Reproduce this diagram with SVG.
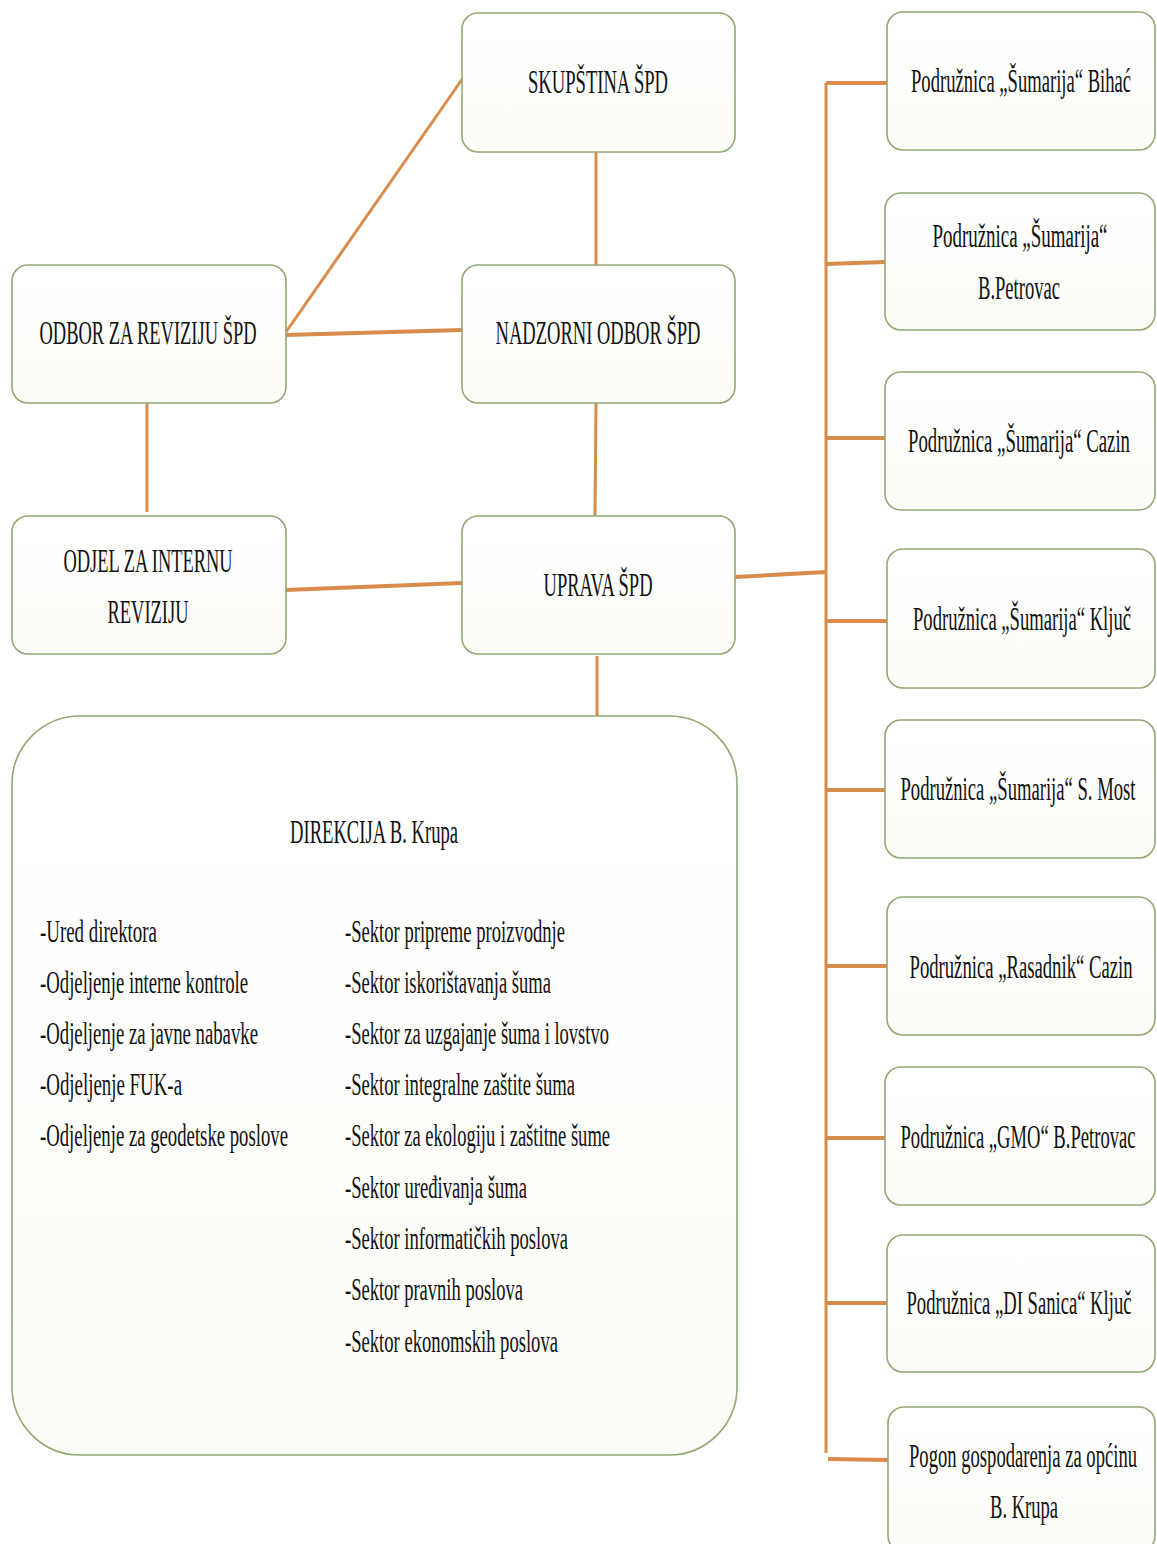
<svg xmlns="http://www.w3.org/2000/svg" width="1157" height="1544" viewBox="0 0 1157 1544">
<defs>
<linearGradient id="bg" x1="0" y1="0" x2="0" y2="1">
<stop offset="0" stop-color="#ffffff"/>
<stop offset="1" stop-color="#fbfcf7"/>
</linearGradient>
<style>
.box{fill:url(#bg);stroke:#93a874;stroke-width:1.6}
.t{font-family:"Liberation Serif","Times New Roman",serif;font-size:34px;fill:#111;text-anchor:middle}
.l{font-family:"Liberation Serif","Times New Roman",serif;font-size:31px;fill:#111}
.c{stroke:#d98c4c;stroke-width:3;fill:none}
.c2{stroke:#d98c4c;stroke-width:4;fill:none}
</style>
</defs>
<rect width="1157" height="1544" fill="#ffffff"/>
<g id="connectors">
<line class="c" x1="596" y1="152" x2="596" y2="266"/>
<line class="c" x1="286" y1="332" x2="463" y2="78"/>
<line class="c2" x1="286" y1="335" x2="462" y2="330"/>
<line class="c" x1="596" y1="403" x2="595" y2="517"/>
<line class="c" x1="147" y1="403" x2="147" y2="512"/>
<line class="c2" x1="286" y1="590" x2="462" y2="583"/>
<line class="c" x1="597" y1="656" x2="597" y2="717"/>
<line class="c2" x1="735" y1="577" x2="826" y2="572"/>
<line class="c" x1="826" y1="83" x2="826" y2="1453"/>
<line class="c2" x1="826" y1="83" x2="887" y2="83"/>
<line class="c2" x1="826" y1="264" x2="885" y2="262"/>
<line class="c2" x1="826" y1="438" x2="885" y2="438"/>
<line class="c2" x1="826" y1="621" x2="887" y2="621"/>
<line class="c2" x1="826" y1="790" x2="885" y2="790"/>
<line class="c2" x1="826" y1="966" x2="887" y2="966"/>
<line class="c2" x1="826" y1="1138" x2="885" y2="1138"/>
<line class="c2" x1="826" y1="1303" x2="887" y2="1303"/>
<line class="c2" x1="828" y1="1459" x2="888" y2="1460"/>
</g>
<g id="skupstina">
<rect class="box" x="462" y="13" width="273" height="139" rx="16"/>
<text class="t" transform="translate(598,93) scale(0.6,1)" textLength="233.3" lengthAdjust="spacingAndGlyphs">SKUPŠTINA ŠPD</text>
</g>
<g id="odbor-revizija">
<rect class="box" x="12" y="265" width="274" height="138" rx="16"/>
<text class="t" transform="translate(148,344) scale(0.6,1)" textLength="361.7" lengthAdjust="spacingAndGlyphs">ODBOR ZA REVIZIJU ŠPD</text>
</g>
<g id="nadzorni">
<rect class="box" x="462" y="265" width="273" height="138" rx="16"/>
<text class="t" transform="translate(598,344) scale(0.6,1)" textLength="341.7" lengthAdjust="spacingAndGlyphs">NADZORNI ODBOR ŠPD</text>
</g>
<g id="odjel">
<rect class="box" x="12" y="516" width="274" height="138" rx="16"/>
<text class="t" transform="translate(148,572) scale(0.6,1)" textLength="281.7" lengthAdjust="spacingAndGlyphs">ODJEL ZA INTERNU</text>
<text class="t" transform="translate(148,623) scale(0.6,1)" textLength="135" lengthAdjust="spacingAndGlyphs">REVIZIJU</text>
</g>
<g id="uprava">
<rect class="box" x="462" y="516" width="273" height="138" rx="16"/>
<text class="t" transform="translate(598,596) scale(0.6,1)" textLength="181.7" lengthAdjust="spacingAndGlyphs">UPRAVA ŠPD</text>
</g>
<g id="direkcija">
<rect class="box" x="12" y="716" width="725" height="739" rx="68"/>
<text class="t" transform="translate(374,843) scale(0.6,1)" textLength="280" lengthAdjust="spacingAndGlyphs">DIREKCIJA B. Krupa</text>
<text class="l" transform="translate(40,942) scale(0.6,1)" textLength="195" lengthAdjust="spacingAndGlyphs">-Ured direktora</text>
<text class="l" transform="translate(40,993) scale(0.6,1)" textLength="346.7" lengthAdjust="spacingAndGlyphs">-Odjeljenje interne kontrole</text>
<text class="l" transform="translate(40,1044) scale(0.6,1)" textLength="363.3" lengthAdjust="spacingAndGlyphs">-Odjeljenje za javne nabavke</text>
<text class="l" transform="translate(40,1095) scale(0.6,1)" textLength="236.7" lengthAdjust="spacingAndGlyphs">-Odjeljenje FUK-a</text>
<text class="l" transform="translate(40,1146) scale(0.6,1)" textLength="413.3" lengthAdjust="spacingAndGlyphs">-Odjeljenje za geodetske poslove</text>
<text class="l" transform="translate(345,942) scale(0.6,1)" textLength="366.7" lengthAdjust="spacingAndGlyphs">-Sektor pripreme proizvodnje</text>
<text class="l" transform="translate(345,993) scale(0.6,1)" textLength="343.3" lengthAdjust="spacingAndGlyphs">-Sektor iskorištavanja šuma</text>
<text class="l" transform="translate(345,1044) scale(0.6,1)" textLength="440" lengthAdjust="spacingAndGlyphs">-Sektor za uzgajanje šuma i lovstvo</text>
<text class="l" transform="translate(345,1095) scale(0.6,1)" textLength="383.3" lengthAdjust="spacingAndGlyphs">-Sektor integralne zaštite šuma</text>
<text class="l" transform="translate(345,1146) scale(0.6,1)" textLength="441.7" lengthAdjust="spacingAndGlyphs">-Sektor za ekologiju i zaštitne šume</text>
<text class="l" transform="translate(345,1198) scale(0.6,1)" textLength="303.3" lengthAdjust="spacingAndGlyphs">-Sektor uređivanja šuma</text>
<text class="l" transform="translate(345,1249) scale(0.6,1)" textLength="371.7" lengthAdjust="spacingAndGlyphs">-Sektor informatičkih poslova</text>
<text class="l" transform="translate(345,1300) scale(0.6,1)" textLength="296.7" lengthAdjust="spacingAndGlyphs">-Sektor pravnih poslova</text>
<text class="l" transform="translate(345,1352) scale(0.6,1)" textLength="355" lengthAdjust="spacingAndGlyphs">-Sektor ekonomskih poslova</text>
</g>
<g id="bihac">
<rect class="box" x="887" y="12" width="268" height="138" rx="16"/>
<text class="t" transform="translate(1021,92) scale(0.6,1)" textLength="366.7" lengthAdjust="spacingAndGlyphs">Podružnica „Šumarija“ Bihać</text>
</g>
<g id="bpetrovac">
<rect class="box" x="885" y="193" width="270" height="137" rx="16"/>
<text class="t" transform="translate(1020,247) scale(0.6,1)" textLength="291.7" lengthAdjust="spacingAndGlyphs">Podružnica „Šumarija“</text>
<text class="t" transform="translate(1019,299) scale(0.6,1)" textLength="136.7" lengthAdjust="spacingAndGlyphs">B.Petrovac</text>
</g>
<g id="cazin">
<rect class="box" x="885" y="372" width="270" height="138" rx="16"/>
<text class="t" transform="translate(1019,452) scale(0.6,1)" textLength="370" lengthAdjust="spacingAndGlyphs">Podružnica „Šumarija“ Cazin</text>
</g>
<g id="kljuc">
<rect class="box" x="887" y="549" width="268" height="139" rx="16"/>
<text class="t" transform="translate(1022,630) scale(0.6,1)" textLength="363.3" lengthAdjust="spacingAndGlyphs">Podružnica „Šumarija“ Ključ</text>
</g>
<g id="smost">
<rect class="box" x="885" y="720" width="270" height="138" rx="16"/>
<text class="t" transform="translate(1018,800) scale(0.6,1)" textLength="391.7" lengthAdjust="spacingAndGlyphs">Podružnica „Šumarija“ S. Most</text>
</g>
<g id="rasadnik">
<rect class="box" x="887" y="897" width="268" height="138" rx="16"/>
<text class="t" transform="translate(1021,978) scale(0.6,1)" textLength="371.7" lengthAdjust="spacingAndGlyphs">Podružnica „Rasadnik“ Cazin</text>
</g>
<g id="gmo">
<rect class="box" x="885" y="1067" width="270" height="138" rx="16"/>
<text class="t" transform="translate(1018,1148) scale(0.6,1)" textLength="391.7" lengthAdjust="spacingAndGlyphs">Podružnica „GMO“ B.Petrovac</text>
</g>
<g id="disanica">
<rect class="box" x="887" y="1235" width="268" height="137" rx="16"/>
<text class="t" transform="translate(1019,1314) scale(0.6,1)" textLength="375" lengthAdjust="spacingAndGlyphs">Podružnica „DI Sanica“ Ključ</text>
</g>
<g id="pogon">
<rect class="box" x="888" y="1407" width="267" height="145" rx="16"/>
<text class="t" transform="translate(1023,1467) scale(0.6,1)" textLength="380" lengthAdjust="spacingAndGlyphs">Pogon gospodarenja za općinu</text>
<text class="t" transform="translate(1024,1518) scale(0.6,1)" textLength="113.3" lengthAdjust="spacingAndGlyphs">B. Krupa</text>
</g>
</svg>
